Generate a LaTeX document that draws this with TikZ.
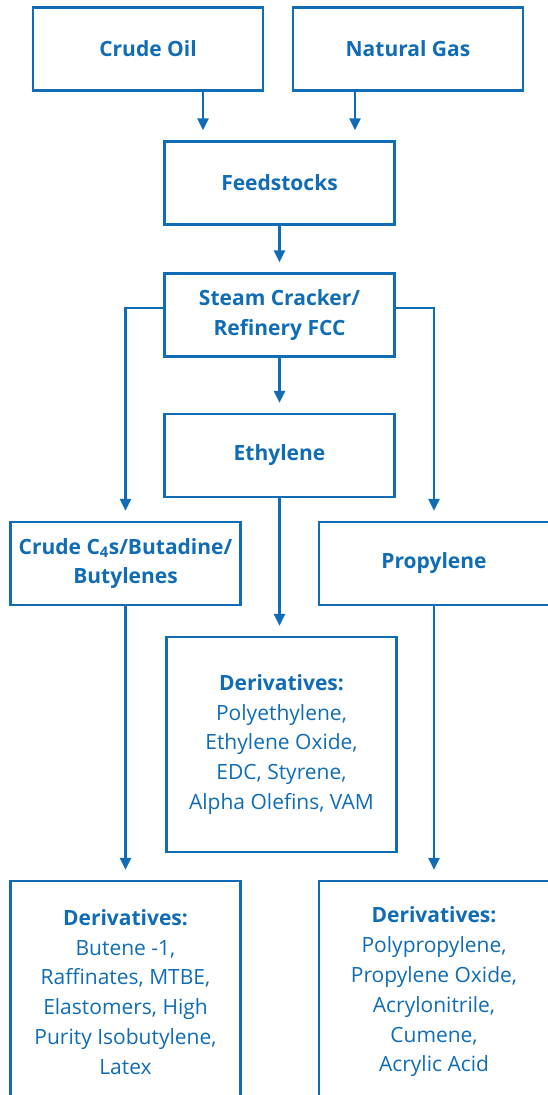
\documentclass[tikz,border=0pt]{standalone}
\usepackage{fontspec}
\setmainfont{Open Sans}
\usetikzlibrary{arrows.meta}
\definecolor{chemblue}{RGB}{16,108,181}

\begin{document}
\begin{tikzpicture}[x=1pt,y=-1pt,
  box/.style={rectangle,draw=chemblue,line width=2.4pt,minimum width=230pt,
    minimum height=83pt,inner sep=0pt,align=center,text=chemblue,
    font=\fontsize{21}{29.8}\selectfont},
  flow/.style={draw=chemblue,line width=2.4pt,shorten >=10pt,
    -{Triangle[length=12pt,width=11pt]}}]

  \useasboundingbox (0,0) rectangle (548,1095);
  \clip (0,0) rectangle (548,1095);

  \node[box] (oil) at (148,49) {\bfseries Crude Oil};
  \node[box] (gas) at (408,49) {\bfseries Natural Gas};
  \node[box] (feed) at (279.5,183) {\bfseries Feedstocks};
  \node[box] (crack) at (279.5,315) {\bfseries Steam Cracker/\\\bfseries Refinery FCC};
  \node[box] (eth) at (279.5,455.5) {\bfseries Ethylene};
  \node[box] (c4) at (125.5,563.5) {\bfseries Crude C\textsubscript{4}s/Butadine/\\\bfseries Butylenes};
  \node[box] (prop) at (434,563.5) {\bfseries Propylene};
  \node[box,minimum height=215pt] (ethder) at (281.5,744.5)
    {\bfseries Derivatives:\\Polyethylene,\\Ethylene Oxide,\\EDC, Styrene,\\Alpha Olefins, VAM};
  \node[box,minimum height=222pt] (c4der) at (125.5,992)
    {\bfseries Derivatives:\\Butene -1,\\Raffinates, MTBE,\\Elastomers, High\\Purity Isobutylene,\\Latex};
  \node[box,minimum height=222pt] (propder) at (434,992)
    {\bfseries Derivatives:\\Polypropylene,\\Propylene Oxide,\\Acrylonitrile,\\Cumene,\\Acrylic Acid};

  \draw[flow] ([xshift=55pt]oil.south) -- ([xshift=55pt]oil.south |- feed.north);
  \draw[flow] ([xshift=-53pt]gas.south) -- ([xshift=-53pt]gas.south |- feed.north);
  \draw[flow] (feed.south) -- (crack.north);
  \draw[flow] (crack.south) -- (eth.north);
  \draw[flow] ([yshift=7pt]crack.west) -| (c4.north);
  \draw[flow] ([yshift=7pt]crack.east) -| (prop.north);
  \draw[flow] (eth.south) -- (eth.south |- ethder.north);
  \draw[flow] (c4.south) -- (c4der.north);
  \draw[flow] (prop.south) -- (propder.north);
\end{tikzpicture}
\end{document}
